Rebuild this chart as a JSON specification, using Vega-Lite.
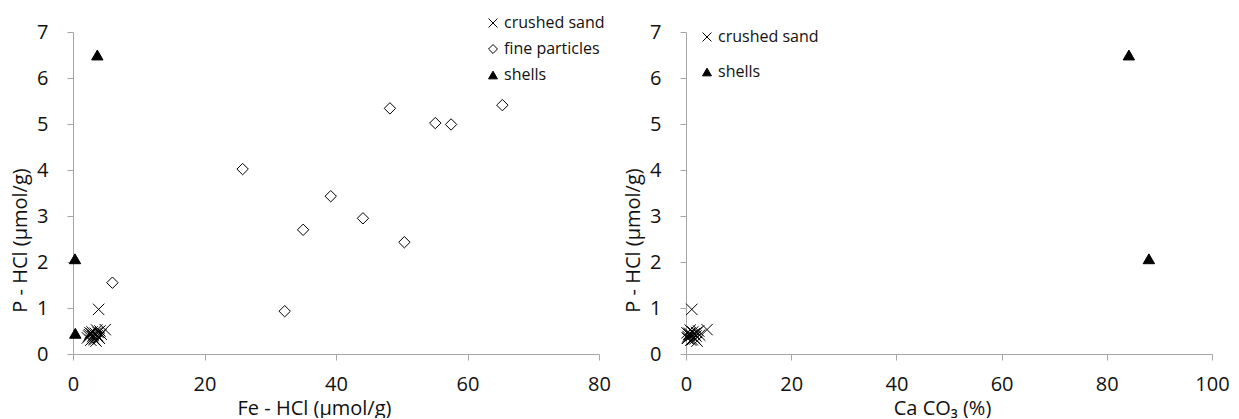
{
  "$schema": "https://vega.github.io/schema/vega-lite/v6.json",
  "background": "white",
  "padding": {"left": 10, "top": 15, "right": 0, "bottom": 0},
  "config": {
    "view": {"stroke": null},
    "font": "Open Sans",
    "axis": {
      "grid": false,
      "domainColor": "#a6a6a6",
      "tickColor": "#a6a6a6",
      "tickSize": 6,
      "labelFont": "Open Sans",
      "labelFontSize": 20,
      "labelColor": "#111111",
      "titleFont": "Open Sans",
      "titleFontSize": 20,
      "titleFontWeight": "normal",
      "titleColor": "#111111"
    },
    "axisX": {"labelPadding": 14, "labelFlush": false, "titleBaseline": "alphabetic", "titleY": 60, "titleAlign": "center"},
    "axisY": {"labelPadding": 19, "titleAngle": -90, "titleX": -53, "titleY": 208, "titleAlign": "center", "titleBaseline": "middle"},
    "legend": {
      "orient": "none",
      "title": null,
      "labelFont": "Open Sans",
      "labelFontSize": 16,
      "labelColor": "#111111",
      "symbolSize": 80,
      "symbolStrokeWidth": 1,
      "labelOffset": 3,
      "padding": 0
    }
  },
  "datasets": {
    "samples": [
      {"type": "crushed sand", "fe": 3.9, "caco3": 1.1, "p": 0.97},
      {"type": "crushed sand", "fe": 4.9, "caco3": 4.0, "p": 0.53},
      {"type": "crushed sand", "fe": 2.2, "caco3": 0.3, "p": 0.35},
      {"type": "crushed sand", "fe": 2.5, "caco3": 0.6, "p": 0.42},
      {"type": "crushed sand", "fe": 2.7, "caco3": 0.9, "p": 0.30},
      {"type": "crushed sand", "fe": 2.9, "caco3": 1.3, "p": 0.48},
      {"type": "crushed sand", "fe": 3.0, "caco3": 0.4, "p": 0.38},
      {"type": "crushed sand", "fe": 3.2, "caco3": 1.7, "p": 0.33},
      {"type": "crushed sand", "fe": 3.4, "caco3": 0.7, "p": 0.45},
      {"type": "crushed sand", "fe": 3.5, "caco3": 2.1, "p": 0.28},
      {"type": "crushed sand", "fe": 3.7, "caco3": 1.0, "p": 0.40},
      {"type": "crushed sand", "fe": 3.9, "caco3": 1.5, "p": 0.36},
      {"type": "crushed sand", "fe": 4.1, "caco3": 2.4, "p": 0.50},
      {"type": "crushed sand", "fe": 4.3, "caco3": 0.5, "p": 0.43},
      {"type": "crushed sand", "fe": 2.4, "caco3": 1.9, "p": 0.39},
      {"type": "crushed sand", "fe": 2.6, "caco3": 0.2, "p": 0.46},
      {"type": "crushed sand", "fe": 3.1, "caco3": 2.6, "p": 0.41},
      {"type": "crushed sand", "fe": 3.3, "caco3": 1.2, "p": 0.31},
      {"type": "crushed sand", "fe": 3.6, "caco3": 0.8, "p": 0.52},
      {"type": "crushed sand", "fe": 2.8, "caco3": 1.6, "p": 0.44},
      {"type": "crushed sand", "fe": 4.0, "caco3": 0.3, "p": 0.34},
      {"type": "crushed sand", "fe": 3.8, "caco3": 2.0, "p": 0.47},
      {"type": "fine particles", "fe": 6.0, "caco3": null, "p": 1.55},
      {"type": "fine particles", "fe": 25.8, "caco3": null, "p": 4.02},
      {"type": "fine particles", "fe": 32.2, "caco3": null, "p": 0.93},
      {"type": "fine particles", "fe": 35.0, "caco3": null, "p": 2.7},
      {"type": "fine particles", "fe": 39.2, "caco3": null, "p": 3.43},
      {"type": "fine particles", "fe": 44.1, "caco3": null, "p": 2.95},
      {"type": "fine particles", "fe": 48.2, "caco3": null, "p": 5.34},
      {"type": "fine particles", "fe": 50.4, "caco3": null, "p": 2.43},
      {"type": "fine particles", "fe": 55.1, "caco3": null, "p": 5.02},
      {"type": "fine particles", "fe": 57.5, "caco3": null, "p": 4.99},
      {"type": "fine particles", "fe": 65.3, "caco3": null, "p": 5.41},
      {"type": "shells", "fe": 0.35, "caco3": null, "p": 0.45},
      {"type": "shells", "fe": 0.3, "caco3": 88.0, "p": 2.07},
      {"type": "shells", "fe": 3.7, "caco3": 84.2, "p": 6.5}
    ]
  },
  "spacing": 12,
  "resolve": {"scale": {"shape": "independent", "fill": "independent", "stroke": "independent"}, "legend": {"shape": "independent", "fill": "independent", "stroke": "independent"}},
  "hconcat": [
    {
      "width": 526,
      "height": 322,
      "data": {"name": "samples"},
      "transform": [{"filter": "datum.fe != null"}],
      "mark": {"type": "point", "strokeWidth": 1, "opacity": 1, "size": 130},
      "encoding": {
        "x": {"field": "fe", "type": "quantitative", "title": "Fe - HCl (µmol/g)",
              "scale": {"domain": [0, 80], "nice": false, "zero": true},
              "axis": {"values": [0, 20, 40, 60, 80], "titleX": 241}},
        "y": {"field": "p", "type": "quantitative", "title": "P - HCl (µmol/g)",
              "scale": {"domain": [0, 7], "nice": false},
              "axis": {"values": [0, 1, 2, 3, 4, 5, 6, 7]}},
        "shape": {"field": "type", "type": "nominal",
                  "scale": {"domain": ["crushed sand", "fine particles", "shells"], "range": ["M-1,-1L1,1M-1,1L1,-1", "diamond", "triangle-up"]},
                  "legend": {"legendX": 412, "legendY": -17, "rowPadding": 10}},
        "fill": {"field": "type", "type": "nominal",
                 "scale": {"domain": ["crushed sand", "fine particles", "shells"], "range": ["transparent", "white", "black"]},
                 "legend": {"legendX": 412, "legendY": -17, "rowPadding": 10}},
        "stroke": {"field": "type", "type": "nominal",
                 "scale": {"domain": ["crushed sand", "fine particles", "shells"], "range": ["black", "black", "black"]},
                 "legend": {"legendX": 412, "legendY": -17, "rowPadding": 10}}
      }
    },
    {
      "width": 526,
      "height": 322,
      "data": {"name": "samples"},
      "transform": [{"filter": "datum.caco3 != null"}],
      "mark": {"type": "point", "strokeWidth": 1, "opacity": 1, "size": 130},
      "encoding": {
        "x": {"field": "caco3", "type": "quantitative", "title": "Ca CO₃ (%)",
              "scale": {"domain": [0, 100], "nice": false},
              "axis": {"values": [0, 20, 40, 60, 80, 100], "titleX": 256}},
        "y": {"field": "p", "type": "quantitative", "title": "P - HCl (µmol/g)",
              "scale": {"domain": [0, 7], "nice": false},
              "axis": {"values": [0, 1, 2, 3, 4, 5, 6, 7]}},
        "shape": {"field": "type", "type": "nominal",
                  "scale": {"domain": ["crushed sand", "shells"], "range": ["M-1,-1L1,1M-1,1L1,-1", "triangle-up"]},
                  "legend": {"legendX": 13, "legendY": -3, "rowPadding": 19}},
        "fill": {"field": "type", "type": "nominal",
                 "scale": {"domain": ["crushed sand", "shells"], "range": ["transparent", "black"]},
                 "legend": {"legendX": 13, "legendY": -3, "rowPadding": 19}},
        "stroke": {"field": "type", "type": "nominal",
                 "scale": {"domain": ["crushed sand", "shells"], "range": ["black", "black"]},
                 "legend": {"legendX": 13, "legendY": -3, "rowPadding": 19}}
      }
    }
  ]
}
